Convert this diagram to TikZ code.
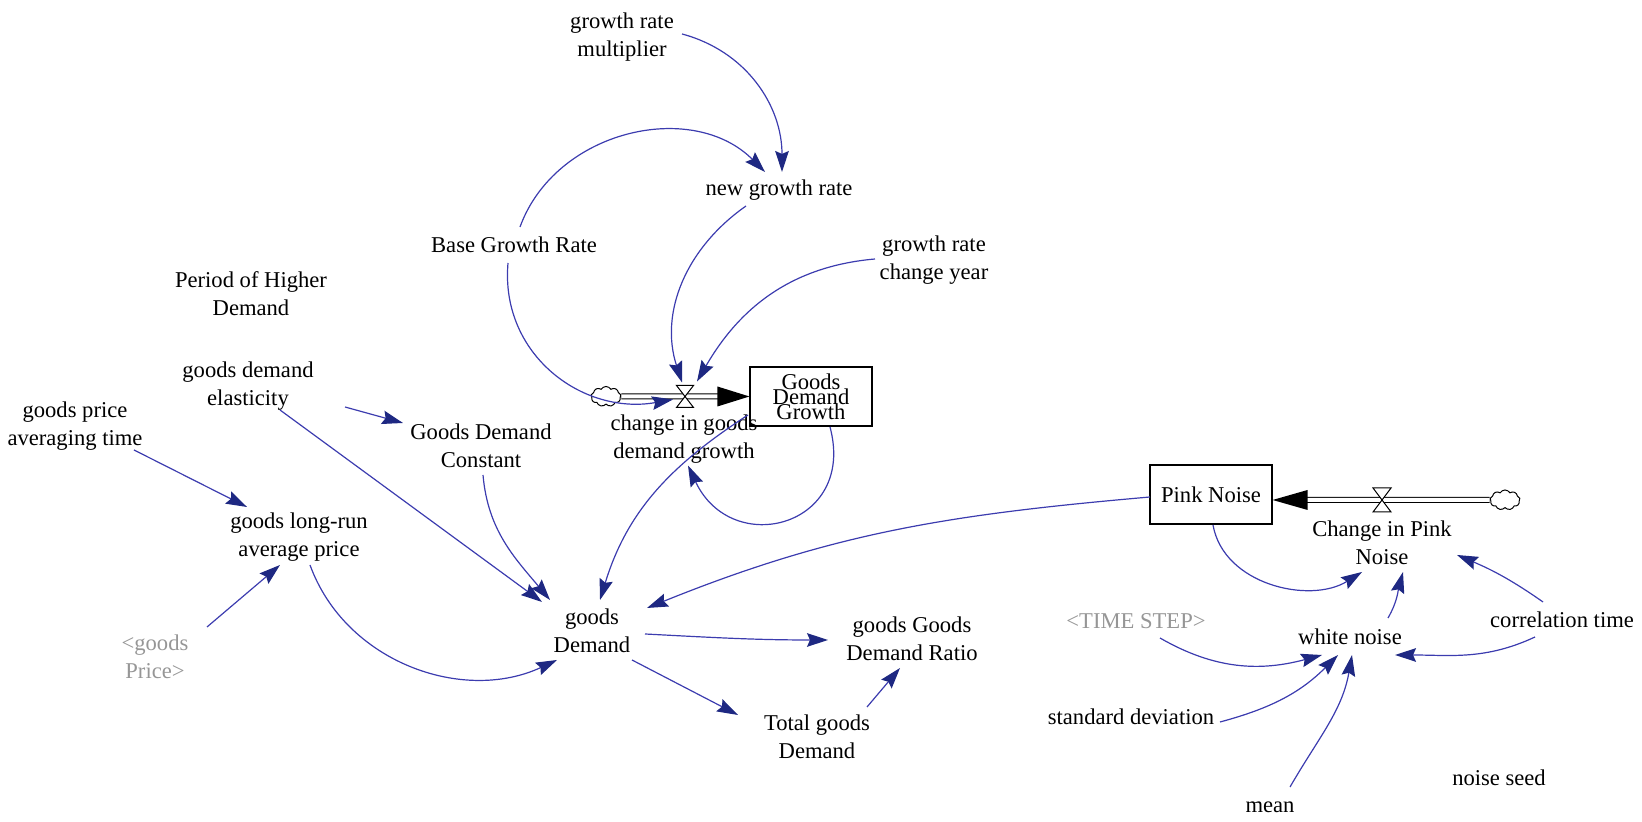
\documentclass[tikz,border=0pt]{standalone}
\usepackage{fontspec}
\setmainfont{Liberation Serif}
\usetikzlibrary{arrows.meta,shapes.symbols}
\definecolor{lnk}{RGB}{60,60,175}
\definecolor{tipcol}{RGB}{30,40,130}
\definecolor{shadowtxt}{RGB}{150,150,150}
\begin{document}
\begin{tikzpicture}[x=0.5pt,y=0.5pt,
  var/.style={align=center,inner sep=0pt,font=\fontsize{11.3}{14}\selectfont},
  ghost/.style={var,text=shadowtxt},
  stock/.style={draw,line width=0.6pt,minimum width=61pt,minimum height=29.5pt,inner sep=0pt,align=center,font=\fontsize{11.3}{14}\selectfont},
  lk/.style={draw=lnk,line width=0.6pt,-{Stealth[length=10.5pt,width=6.8pt,inset=1.5pt,color=tipcol]}},
  pipe/.style={double,double distance=2pt,line width=0.5pt},
  src/.style={cloud,draw,cloud puffs=9,cloud puff arc=120,aspect=1.5,minimum width=15pt,minimum height=10pt,inner sep=0pt,line width=0.5pt},
  valve/.style={fill=white,draw=black,line width=0.5pt}
]
\useasboundingbox (0,0) rectangle (1642,822);

% variables
\node[var] (grm) at (622,785) {growth rate\\multiplier};
\node[var] (ngr) at (779,632) {new growth rate};
\node[var] (bgr) at (514,577) {Base Growth Rate};
\node[var] (grcy) at (934,562) {growth rate\\change year};
\node[var] (phd) at (251,528) {Period of Higher\\Demand};
\node[var] (gde) at (248,436) {goods demand\\elasticity};
\node[var] (gpat) at (75,396) {goods price\\averaging time};
\node[var] (gdc) at (481,376) {Goods Demand\\Constant};
\node[var] (cgdg) at (684,383) {change in goods\\demand growth};
\node[var] (glrap) at (299,285) {goods long-run\\average price};
\node[ghost] (gp) at (155,165) {<goods\\Price>};
\node[var] (gD) at (592,191) {goods\\Demand};
\node[var] (gGDR) at (912,183) {goods Goods\\Demand Ratio};
\node[var] (TgD) at (817,85) {Total goods\\Demand};
\node[var] (cpn) at (1382,279.5) {Change in Pink\\Noise};
\node[ghost] (ts) at (1136,201) {<TIME STEP>};
\node[var] (wn) at (1350,185) {white noise};
\node[var] (ct) at (1562,202) {correlation time};
\node[var] (sd) at (1131,105) {standard deviation};
\node[var] (mean) at (1270,15) {mean};
\node[var] (ns) at (1499,44) {noise seed};

% stocks
\node[stock] (gdg) at (811,425.5) {Goods\\[-6.4pt]Demand\\[-6.4pt]Growth};
\node[stock] (pn) at (1211,327.5) {Pink Noise};

% flow 1
\node[src] (c1) at (606,425.5) {};
\coordinate (v1) at (685,425.5);
\draw[pipe] (c1.east) -- ([shift={(-30,0)}]gdg.west);
\fill (gdg.west) -- ++(-32,10) -- ++(0,-20) -- cycle;
\filldraw[valve] ([shift={(-8.5,11)}]v1) -- ([shift={(8.5,11)}]v1) -- ([shift={(-8.5,-11)}]v1) -- ([shift={(8.5,-11)}]v1) -- cycle;

% flow 2
\node[src] (c2) at (1505,322) {};
\coordinate (v2) at (1382,322);
\coordinate (pe) at (pn.east |- c2);
\draw[pipe] (c2.west) -- ([shift={(33,0)}]pe);
\fill (pe) -- ++(35,10) -- ++(0,-20) -- cycle;
\filldraw[valve] ([shift={(-9,12)}]v2) -- ([shift={(9,12)}]v2) -- ([shift={(-9,-12)}]v2) -- ([shift={(9,-12)}]v2) -- cycle;

% links
\draw[lk] ([shift={(60,3)}]grm.center) to[out=-15,in=90] ([shift={(3,18)}]ngr.center);
\draw[lk] ([shift={(6,18)}]bgr.center) to[out=70,in=135,looseness=1.05] ([shift={(-14,18)}]ngr.center);
\draw[lk] ([shift={(-33,-16)}]ngr.center) to[out=215,in=108] ([shift={(-3,14)}]v1);
\draw[lk] ([shift={(-59,1)}]grcy.center) to[out=185,in=60] ([shift={(12,15)}]v1);
\draw[lk] ([shift={(-6,-18)}]bgr.center) to[out=265,in=190,looseness=1.1] ([shift={(-12,-3)}]v1);
\draw[lk] ([shift={(19,-30.5)}]gdg.center) to[out=-75,in=-65,looseness=1.8] ([shift={(4,-26.5)}]cgdg.center);
\draw[lk] ([shift={(-63,-18.5)}]gdg.center) to[out=213,in=73] ([shift={(8,31)}]gD.center);
\draw[lk] ([shift={(-61,-2.5)}]pn.center) to[out=185,in=22] ([shift={(55,23)}]gD.center);
\draw[lk] ([shift={(53,-3)}]gD.center) to[out=-3,in=180] ([shift={(-84,-1)}]gGDR.center);
\draw[lk] ([shift={(40,-29)}]gD.center) -- ([shift={(-79,22)}]TgD.center);
\draw[lk] ([shift={(50,30)}]TgD.center) -- ([shift={(-12,-29)}]gGDR.center);
\draw[lk] ([shift={(97,-21)}]gde.center) -- ([shift={(-78,23)}]gdc.center);
\draw[lk] ([shift={(32,-24)}]gde.center) -- ([shift={(-50,29)}]gD.center);
\draw[lk] ([shift={(2,-29)}]gdc.center) to[out=-85,in=130] ([shift={(-42,31)}]gD.center);
\draw[lk] ([shift={(59,-24)}]gpat.center) -- ([shift={(-52,30)}]glrap.center);
\draw[lk] ([shift={(52,30)}]gp.center) -- ([shift={(-19,-28)}]glrap.center);
\draw[lk] ([shift={(11,-28)}]glrap.center) to[out=-70,in=205] ([shift={(-35,-29)}]gD.center);
\draw[lk] ([shift={(2,-30.5)}]pn.center) to[out=-80,in=212] ([shift={(-20,-29.5)}]cpn.center);
\draw[lk] ([shift={(38,19)}]wn.center) to[out=60,in=255] ([shift={(21,-29.5)}]cpn.center);
\draw[lk] ([shift={(-19,18)}]ct.center) to[out=145,in=-23] ([shift={(75,-12.5)}]cpn.center);
\draw[lk] ([shift={(-27,-17)}]ct.center) to[out=205,in=0] ([shift={(45,-18)}]wn.center);
\draw[lk] ([shift={(24,-17)}]ts.center) to[out=-30,in=195] ([shift={(-28,-18)}]wn.center);
\draw[lk] ([shift={(89,-5)}]sd.center) to[out=15,in=225] ([shift={(-12,-18)}]wn.center);
\draw[lk] ([shift={(20,20)}]mean.center) to[out=60,in=260] ([shift={(2,-18)}]wn.center);
\end{tikzpicture}
\end{document}
